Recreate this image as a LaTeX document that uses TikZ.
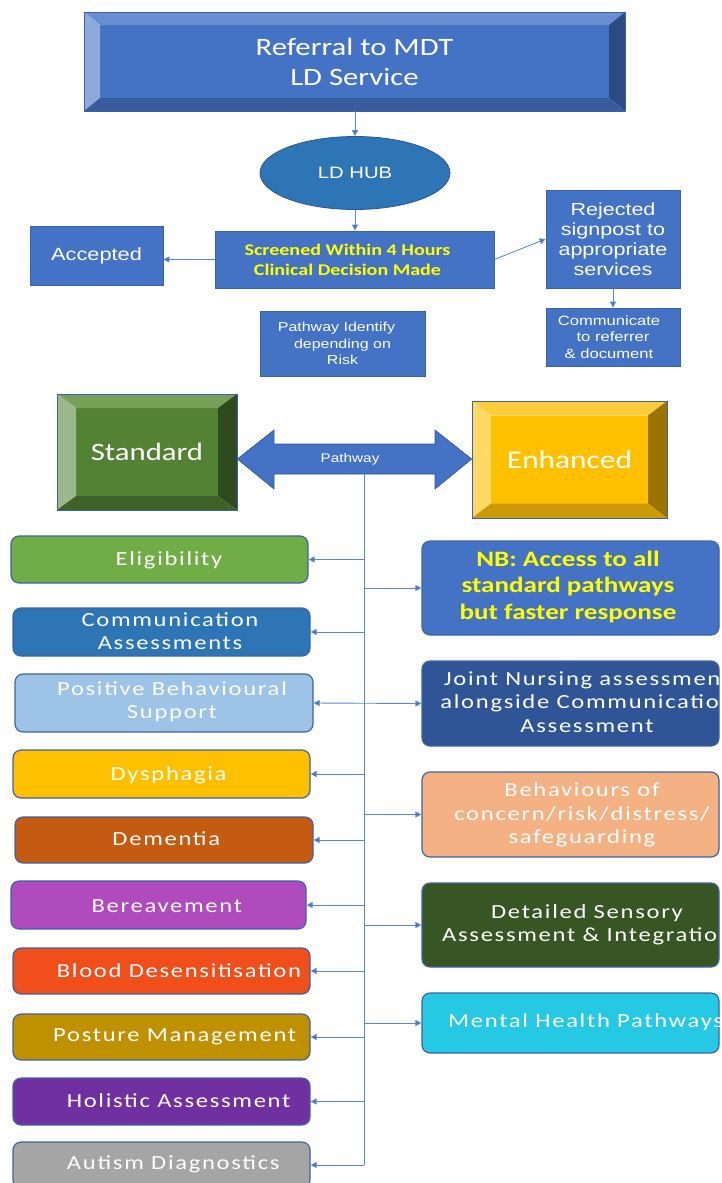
\documentclass[tikz,border=0pt]{standalone}
\usepackage{fontspec}
\usetikzlibrary{shapes.geometric,arrows.meta,calc}
\newfontfamily\calfont{Carlito}[FakeStretch=1.23]
\newfontfamily\calsp{Carlito}[FakeStretch=1.23,LetterSpace=8.5]
\newfontfamily\arfont{Liberation Sans}[FakeStretch=1.23]
\definecolor{refF}{HTML}{4472C4}\definecolor{refT}{HTML}{6A8ED2}\definecolor{refL}{HTML}{8EA9DB}\definecolor{refR}{HTML}{2C4B82}\definecolor{refB}{HTML}{385C9E}
\definecolor{stdF}{HTML}{548235}\definecolor{stdT}{HTML}{78A05A}\definecolor{stdL}{HTML}{9BB88A}\definecolor{stdR}{HTML}{2F4A1F}\definecolor{stdB}{HTML}{3F6229}
\definecolor{enhF}{HTML}{FFC000}\definecolor{enhT}{HTML}{FFCB3A}\definecolor{enhL}{HTML}{FFD966}\definecolor{enhR}{HTML}{9A7400}\definecolor{enhB}{HTML}{CC9A06}
\definecolor{flowF}{HTML}{4472C4}\definecolor{flowB}{HTML}{3A62AD}\definecolor{hubF}{HTML}{2E75B6}
\definecolor{rbB}{HTML}{3E64A6}\definecolor{lnc}{HTML}{5B86D1}\definecolor{ylw}{HTML}{FFFF00}
\definecolor{cElig}{HTML}{70AD47}\definecolor{cComm}{HTML}{2E75B6}\definecolor{cPbs}{HTML}{9DC3E6}
\definecolor{cDys}{HTML}{FFC000}\definecolor{cDem}{HTML}{C55A11}\definecolor{cBer}{HTML}{B04BBE}
\definecolor{cBlood}{HTML}{F04E1B}\definecolor{cPost}{HTML}{BF9000}\definecolor{cHol}{HTML}{7030A0}
\definecolor{cAut}{HTML}{A5A5A5}\definecolor{cNb}{HTML}{4472C4}\definecolor{cJoint}{HTML}{2F5597}
\definecolor{cBeh}{HTML}{F4B183}\definecolor{cDet}{HTML}{375623}\definecolor{cMh}{HTML}{26C9E3}
\newcommand\bevelbox[7]{%
 \fill[#7F] (#1+#5,#2+#6) rectangle (#3-#5,#4-#6);
 \fill[#7T] (#1,#2) -- (#3,#2) -- (#3-#5,#2+#6) -- (#1+#5,#2+#6) -- cycle;
 \fill[#7L] (#1,#2) -- (#1+#5,#2+#6) -- (#1+#5,#4-#6) -- (#1,#4) -- cycle;
 \fill[#7R] (#3,#2) -- (#3,#4) -- (#3-#5,#4-#6) -- (#3-#5,#2+#6) -- cycle;
 \fill[#7B] (#1,#4) -- (#3,#4) -- (#3-#5,#4-#6) -- (#1+#5,#4-#6) -- cycle;}
\begin{document}
\begin{tikzpicture}[x=1pt,y=-1pt,
 flow/.style={draw=flowB, fill=flowF, line width=0.8pt, inner sep=0, text=white, align=center},
 rbox/.style={draw=rbB, line width=1.2pt, rounded corners=8pt, inner sep=0},
 lt/.style={text=white, align=center, inner sep=0, font=\calsp\fontsize{20}{23.5}\selectfont},
 arr/.style={draw=lnc, line width=0.9pt, -{Triangle[length=6pt,width=6pt,fill=flowF]}},
 arrtwo/.style={draw=lnc, line width=0.9pt, {Triangle[length=6pt,width=6pt,fill=flowF]}-{Triangle[length=6pt,width=6pt,fill=flowF]}},
 vln/.style={draw=lnc, line width=0.9pt}]
\useasboundingbox (0,0) rectangle (721,1183);
\clip (0,0) rectangle (721,1183);
% top bevel
\bevelbox{84}{12}{625}{111}{16}{13}{ref}
\node[draw=flowB, line width=0.6pt, minimum width=541, minimum height=99, inner sep=0, text=white, align=center,
  font=\calfont\fontsize{25}{30}\selectfont] (ref) at (354.5,61.5) {Referral to MDT\\LD Service};
\node[ellipse, draw=cJoint, fill=hubF, line width=0.8pt, minimum width=190, minimum height=73, inner sep=0,
  text=white, font=\arfont\fontsize{16.5}{19}\selectfont] (hub) at (355,173) {LD HUB};
\node[flow, minimum width=279, minimum height=57, font=\calfont\bfseries\fontsize{16.3}{19.7}\selectfont, text=ylw] (scr) at (354.5,259.5) {Screened Within 4 Hours\hspace*{14pt}\\Clinical Decision Made\hspace*{14pt}};
\node[flow, minimum width=133, minimum height=59, font=\arfont\fontsize{17.7}{20}\selectfont] (acc) at (96.5,255.5) {Accepted};
\node[flow, minimum width=134, minimum height=98, font=\arfont\fontsize{17.5}{20}\selectfont] (rej) at (613,239) {Rejected\\signpost to\\appropriate\\services};
\node[flow, minimum width=134, minimum height=58, font=\arfont\fontsize{13.5}{16.7}\selectfont] (com) at (613,337) {Communicate\hspace*{8pt}\\to referrer\hspace*{8pt}\\\& document\hspace*{8pt}};
\node[flow, minimum width=165, minimum height=65, font=\arfont\fontsize{13}{16.5}\selectfont] (pid) at (342.5,343.5) {Pathway Identify\hspace*{12pt}\\depending on\hspace*{12pt}\\Risk};
\draw[arr] (ref.south -| hub.north) -- (hub.north);
\draw[arr] (hub.south) -- (hub.south |- scr.north);
\draw[arr] (scr.west) -- (scr.west -| acc.east);
\draw[arr] (scr.east) -- (rej.west);
\draw[arr] (rej.south) -- (com.north);
% standard / enhanced
\bevelbox{57}{394}{237}{510}{19}{14}{std}
\node[draw=flowB, line width=0.6pt, minimum width=180, minimum height=116, inner sep=0, text=white,
  font=\calfont\fontsize{25}{30}\selectfont] (std) at (147,452) {Standard};
\bevelbox{472}{401}{667}{518}{19}{14.5}{enh}
\node[draw=flowB, line width=0.6pt, minimum width=195, minimum height=117, inner sep=0, text=white,
  font=\calfont\fontsize{25.5}{30}\selectfont] (enh) at (569.5,459.5) {Enhanced};
\fill[flowF, draw=cJoint, line width=0.6pt] (std.east |- 0,459) -- (274,430) -- (274,444) -- (435,444) -- (435,430) -- (enh.west |- 0,459) -- (435,489) -- (435,474) -- (274,474) -- (274,489) -- cycle;
\node[text=white, inner sep=0, font=\arfont\fontsize{12.5}{15}\selectfont] (pw) at (350,459) {Pathway};
\coordinate (vtop) at (364,474);
% left boxes
\node[rbox, fill=cElig, minimum width=297, minimum height=47] (elig) at (159.5,559.5) {};
\node[rbox, fill=cComm, minimum width=297, minimum height=48] (comm) at (161.5,632) {};
\node[rbox, fill=cPbs, minimum width=298, minimum height=58] (pbs) at (164,703) {};
\node[rbox, fill=cDys, minimum width=297, minimum height=48] (dys) at (161.5,774) {};
\node[rbox, fill=cDem, minimum width=298, minimum height=46] (dem) at (164,840) {};
\node[rbox, fill=cBer, minimum width=295, minimum height=48] (ber) at (158.5,905) {};
\node[rbox, fill=cBlood, minimum width=297, minimum height=46] (blood) at (161.5,971) {};
\node[rbox, fill=cPost, minimum width=297, minimum height=46] (post) at (161.5,1037) {};
\node[rbox, fill=cHol, minimum width=297, minimum height=47] (hol) at (161.5,1101.5) {};
\node[rbox, fill=cAut, minimum width=297, minimum height=46] (aut) at (161.5,1165) {};
\node[lt] (eligt) at (169,560) {Eligibility};
\node[lt] (commt) at (170,631) {Communication\\Assessments};
\node[lt] (pbst) at (172,701.5) {Positive Behavioural\\Support};
\node[lt] (dyst) at (168.6,775) {Dysphagia};
\node[lt] (demt) at (166.3,839) {Dementia};
\node[lt] (bert) at (166.8,905.7) {Bereavement};
\node[lt] (bloodt) at (179,970.7) {Blood Desensitisation};
\node[lt] (postt) at (174.7,1036.7) {Posture Management};
\node[lt] (holt) at (178.6,1101) {Holistic Assessment};
\node[lt] (autt) at (173.3,1164) {Autism Diagnostics};
% right boxes
\node[rbox, fill=cNb, minimum width=297, minimum height=94] (nb) at (570.5,588) {};
\node[rbox, fill=cJoint, minimum width=297, minimum height=85] (joint) at (570.5,703.5) {};
\node[rbox, fill=cBeh, minimum width=297, minimum height=85] (beh) at (570.5,814.5) {};
\node[rbox, fill=cDet, minimum width=297, minimum height=84] (det) at (570.5,925) {};
\node[rbox, fill=cMh, minimum width=297, minimum height=60] (mh) at (570.5,1023) {};
\node[text=ylw, align=center, inner sep=0, font=\calfont\bfseries\fontsize{22}{26.7}\selectfont] (nbt) at (568,587) {NB: Access to all\\standard pathways\\but faster response};
\node[lt] (jointt) at (587,702) {Joint Nursing assessment\\alongside Communication\\Assessment};
\node[lt] (beht) at (582,815) {Behaviours of\\concern/risk/distress/\\safeguarding};
\node[lt] (dett) at (587,925) {Detailed Sensory\\Assessment \& Integration};
\node[lt, anchor=west] (mht) at (448,1022) {Mental Health Pathways};
% connectors
\draw[vln] (vtop) -- (vtop |- aut.east);
\foreach \b in {elig,comm,dys,dem,ber,blood,post,hol,aut}{\draw[arr] (vtop |- \b.east) -- (\b.east);}
\draw[arrtwo] (pbs.east) -- (joint.west);
\foreach \b in {nb,beh,det,mh}{\draw[arr] (vtop |- \b.west) -- (\b.west);}
\end{tikzpicture}
\end{document}
